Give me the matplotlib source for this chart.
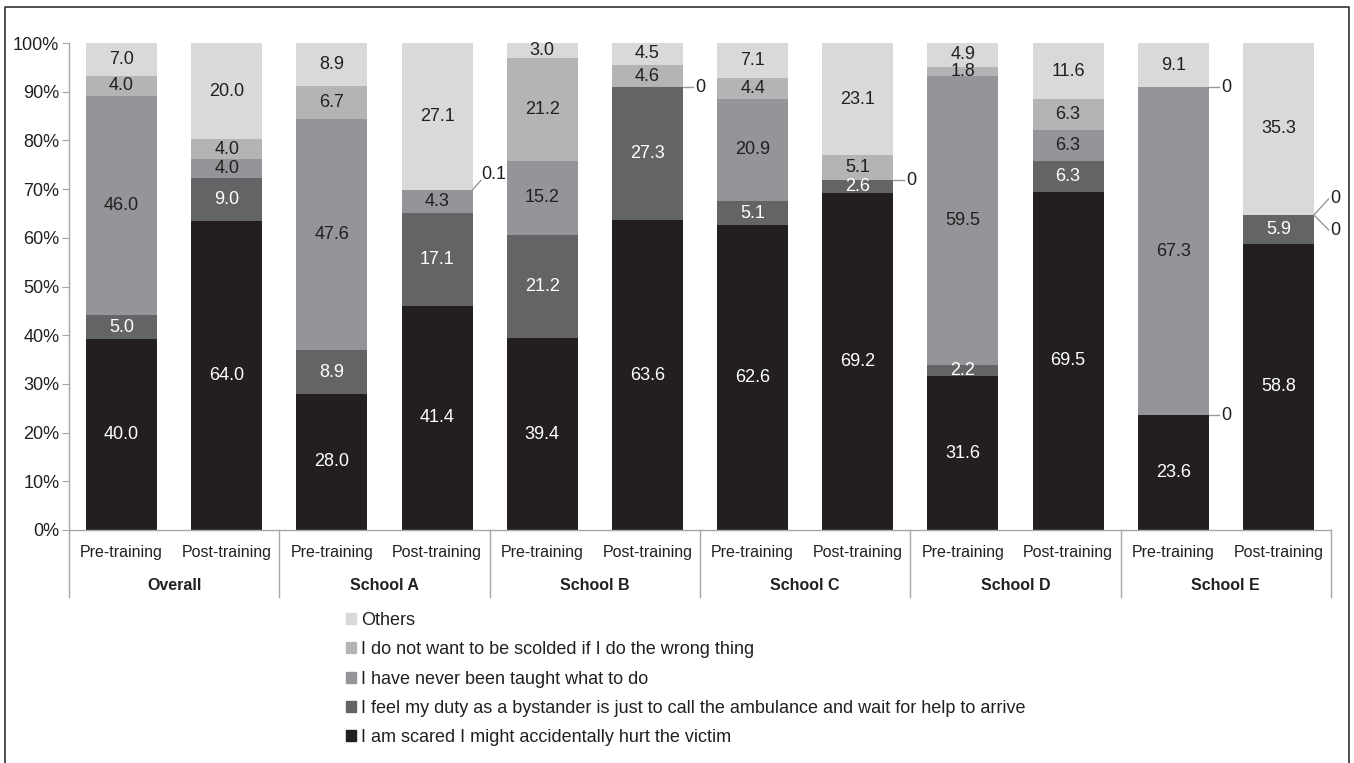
import matplotlib
matplotlib.use('Agg')
import matplotlib.pyplot as plt
import numpy as np
from matplotlib.lines import Line2D
from matplotlib.patches import Patch
from matplotlib.transforms import blended_transform_factory

plt.rcParams['font.family'] = ['Liberation Sans', 'DejaVu Sans']

groups = ['Overall', 'School A', 'School B', 'School C', 'School D', 'School E']
phases = ['Pre-training', 'Post-training']

series_names = [
    'I am scared I might accidentally hurt the victim',
    'I feel my duty as a bystander is just to call the ambulance and wait for help to arrive',
    'I have never been taught what to do',
    'I do not want to be scolded if I do the wrong thing',
    'Others',
]

# one value per bar: Overall pre/post, School A pre/post, ...
scared = [40.0, 64.0, 28.0, 41.4, 39.4, 63.6, 62.6, 69.2, 31.6, 69.5, 23.6, 58.8]
duty = [5.0, 9.0, 8.9, 17.1, 21.2, 27.3, 5.1, 2.6, 2.2, 6.3, 0, 5.9]
taught = [46.0, 4.0, 47.6, 4.3, 15.2, 0, 20.9, 0, 59.5, 6.3, 67.3, 0]
scolded = [4.0, 4.0, 6.7, 0.1, 21.2, 4.6, 4.4, 5.1, 1.8, 6.3, 0, 0]
others = [7.0, 20.0, 8.9, 27.1, 3.0, 4.5, 7.1, 23.1, 4.9, 11.6, 9.1, 35.3]

colors = ['#231f20', '#636466', '#939598', '#b3b4b6', '#d9d9da']
label_colors = ['white', 'white', '#231f20', '#231f20', '#231f20']
axis_grey = '#a6a6a6'
dark = '#231f20'

W, H = 1354, 763
fig = plt.figure(figsize=(W / 100, H / 100), dpi=100)
ax = fig.add_axes([69 / W, 1 - 530 / H, (1331 - 69) / W, (530 - 43) / H])

data = np.array([scared, duty, taught, scolded, others])
totals = data.sum(axis=0)
pct = data / totals * 100
x = np.arange(data.shape[1])
width = 0.675

bottom = np.zeros(len(x))
outside = []
for k in range(len(series_names)):
    ax.bar(x, pct[k], width, bottom=bottom, color=colors[k], linewidth=0)
    for i in x:
        v = data[k, i]
        if v < 0.5:
            outside.append((i, bottom[i] + pct[k, i], v))
        else:
            ax.text(i, bottom[i] + pct[k, i] / 2, '%.1f' % v, ha='center', va='center',
                    fontsize=13, color=label_colors[k])
    bottom += pct[k]


def leader(i, y, txt, mode):
    x0 = i + width / 2
    kw = dict(color='#9a9a9a', lw=1, clip_on=False)
    if mode == 'flat':
        ax.plot([x0, x0 + 0.1], [y, y], **kw)
        ax.text(x0 + 0.12, y, txt, ha='left', va='center', fontsize=13, color=dark)
    elif mode == 'diag':
        ax.plot([x0, x0 + 0.08], [y, y + 1.9], **kw)
        ax.text(x0 + 0.08, y + 1.3, txt, ha='left', va='bottom', fontsize=13, color=dark)
    else:
        dy = 3.3 if mode == 'up' else -3.1
        ax.plot([x0, x0 + 0.14], [y, y + dy], **kw)
        ax.text(x0 + 0.16, y + dy, txt, ha='left', va='center', fontsize=13, color=dark)


seen = {}
for i, y, v in outside:
    key = (i, round(y, 2))
    seen.setdefault(key, []).append(v)
for (i, y), vals in seen.items():
    if len(vals) == 2:
        leader(i, y, '%g' % vals[0], 'up')
        leader(i, y, '%g' % vals[1], 'down')
    elif vals[0] > 0:
        leader(i, y, '%g' % vals[0], 'diag')
    else:
        leader(i, y, '%g' % vals[0], 'flat')

ax.set_xlim(-0.5, len(x) - 0.5)
ax.set_ylim(0, 100)
ax.set_yticks(range(0, 101, 10))
ax.set_yticklabels(['%d%%' % t for t in range(0, 101, 10)])
ax.set_xticks([])
ax.tick_params(axis='y', length=5, color=axis_grey, labelsize=13, labelcolor=dark, pad=2)
for s in ['top', 'right']:
    ax.spines[s].set_visible(False)
for s in ['left', 'bottom']:
    ax.spines[s].set_color(axis_grey)
    ax.spines[s].set_linewidth(1)

trans = blended_transform_factory(ax.transData, ax.transAxes)
for i in x:
    ax.text(i, -0.047, phases[i % 2], transform=trans, ha='center', va='center',
            fontsize=11.5, color=dark)
for g, name in enumerate(groups):
    ax.text(2 * g + 0.5, -0.113, name, transform=trans, ha='center', va='center',
            fontsize=11.5, fontweight='bold', color=dark)
for b in np.arange(-0.5, len(x), 2):
    ax.plot([b, b], [0, -0.1376], transform=trans, color=axis_grey, lw=1, clip_on=False)

handles = [Patch(color=colors[k]) for k in range(4, -1, -1)]
labels = [series_names[k] for k in range(4, -1, -1)]
fig.legend(handles, labels, loc='upper left', bbox_to_anchor=(346 / W, 1 - 612 / H),
           frameon=False, fontsize=13, handlelength=0.55, handleheight=0.55,
           handletextpad=0.3, labelspacing=0.68, borderpad=0, borderaxespad=0,
           labelcolor=dark)

fig.add_artist(Line2D([5 / W, 5 / W, 1349 / W, 1349 / W], [0, 1 - 7 / H, 1 - 7 / H, 0],
                      color='#333333', lw=1.2))

fig.savefig('out.png', dpi=100)
